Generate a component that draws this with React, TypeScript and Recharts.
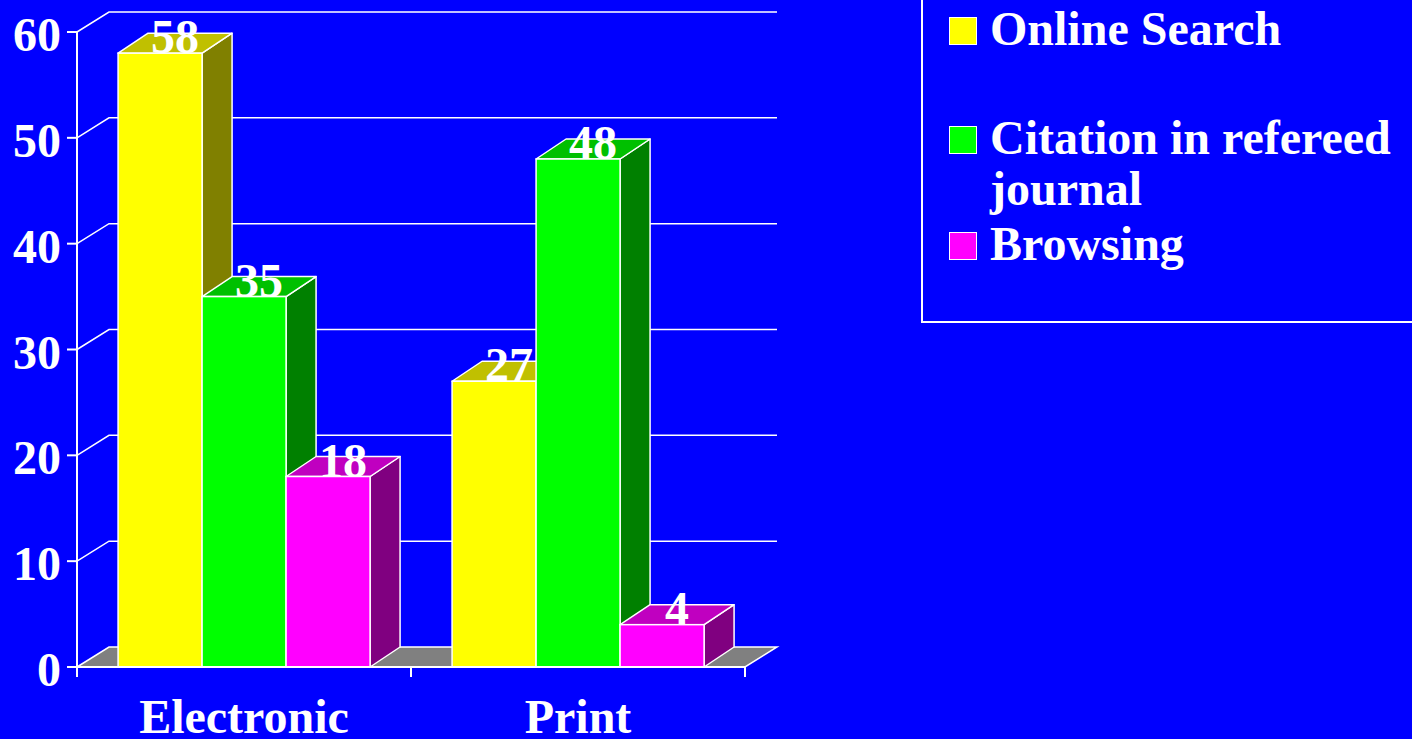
import React from "react"
import { BarChart, Bar, XAxis, YAxis, CartesianGrid, Legend } from "recharts"

const categories = ["Electronic", "Print"]
const onlineSearch = [58, 27]
const citation = [35, 48]
const browsing = [18, 4]
const seriesNames = ["Online Search", "Citation in refereed journal", "Browsing"]
const yTicks = [0, 10, 20, 30, 40, 50, 60]

const data = categories.map((category, i) => ({
  category,
  online: onlineSearch[i],
  citation: citation[i],
  browsing: browsing[i],
}))

const W = 1412
const H = 739
const MARGIN = { top: 32, right: 667, left: 0, bottom: 0 }
const Y_AXIS_W = 77
const X_AXIS_H = 72
const PLOT_W = W - MARGIN.left - MARGIN.right - Y_AXIS_W

const FONT = "'Liberation Serif', 'Times New Roman', serif"
const WALL_DX = 32
const WALL_DY = -20
const BAR_DX = 30
const BAR_DY = -20

const textStyle = {
  fontFamily: FONT,
  fontWeight: 700,
  fontSize: 48,
  fill: "#ffffff",
}

function Box3D(props: any) {
  const { x, y, width, height, fill, top, side, label } = props
  if (!(width > 0) || height == null) return null
  const r = x + width
  const b = y + height
  return (
    <g>
      <path
        d={`M${r},${b} L${r + BAR_DX},${b + BAR_DY} L${r + BAR_DX},${y + BAR_DY} L${r},${y} Z`}
        fill={side}
        stroke="#fff"
        strokeWidth={1.5}
        strokeLinejoin="round"
      />
      <path
        d={`M${x},${y} L${x + BAR_DX},${y + BAR_DY} L${r + BAR_DX},${y + BAR_DY} L${r},${y} Z`}
        fill={top}
        stroke="#fff"
        strokeWidth={1.5}
        strokeLinejoin="round"
      />
      <rect x={x} y={y} width={width} height={height} fill={fill} stroke="#fff" strokeWidth={1.5} />
      <text x={x + width / 2 + BAR_DX / 2} y={y} textAnchor="middle" style={textStyle}>
        {label}
      </text>
    </g>
  )
}

// back wall lines + floor, drawn from the grid's own coordinates
function WallLine(p: any) {
  const { x1, y1, x2 } = p
  const pts: number[] = p.horizontalPoints || []
  const floorY = pts.length ? Math.max(...pts) : p.y + p.height
  const isFloor = Math.abs(y1 - floorY) < 0.5
  if (isFloor) {
    return (
      <polygon
        points={`${x1},${y1} ${x1 + WALL_DX},${y1 + WALL_DY} ${x2 + WALL_DX},${y1 + WALL_DY} ${x2},${y1}`}
        fill="#808080"
        stroke="#fff"
        strokeWidth={1.5}
      />
    )
  }
  return (
    <polyline
      points={`${x1},${y1} ${x1 + WALL_DX},${y1 + WALL_DY} ${x2 + WALL_DX},${y1 + WALL_DY}`}
      fill="none"
      stroke="#fff"
      strokeWidth={1.5}
    />
  )
}

function YTick(props: any) {
  const { x, y, payload } = props
  return (
    <g>
      <line x1={x - 10} y1={y} x2={x} y2={y} stroke="#fff" strokeWidth={2} />
      <text x={x - 16} y={y + 19} textAnchor="end" style={textStyle}>
        {payload.value}
      </text>
    </g>
  )
}

function XTick(props: any) {
  const { x, y, payload } = props
  const half = PLOT_W / categories.length / 2
  return (
    <g>
      <line x1={x - half} y1={y} x2={x - half} y2={y + 10} stroke="#fff" strokeWidth={2} />
      <line x1={x + half} y1={y} x2={x + half} y2={y + 10} stroke="#fff" strokeWidth={2} />
      <text x={x} y={y + 66} textAnchor="middle" style={textStyle}>
        {payload.value}
      </text>
    </g>
  )
}

function LegendBox(props: any) {
  const items = [...(props.payload || [])].sort(
    (a: any, b: any) => seriesNames.indexOf(a.value) - seriesNames.indexOf(b.value)
  )
  const tops = [6, 115, 221]
  return (
    <div
      style={{
        position: "relative",
        width: "100%",
        height: "100%",
        boxSizing: "border-box",
        border: "2px solid #fff",
        fontFamily: FONT,
        fontWeight: 700,
        fontSize: 48,
        lineHeight: "51px",
        color: "#fff",
      }}
    >
      {items.map((item: any, i: number) => (
        <div key={item.value} style={{ position: "absolute", left: 0, top: tops[i] }}>
          <div
            style={{
              position: "absolute",
              left: 26,
              top: 14,
              width: 28,
              height: 28,
              boxSizing: "border-box",
              background: item.color,
              border: "1.5px solid #fff",
            }}
          />
          <div style={{ position: "absolute", left: 67, top: 0, width: 415 }}>{item.value}</div>
        </div>
      ))}
    </div>
  )
}

export default function App() {
  return (
    <div
      style={{
        position: "fixed",
        left: 0,
        top: 0,
        width: W,
        height: H,
        background: "#0000ff",
        overflow: "hidden",
      }}
    >
      <BarChart width={W} height={H} data={data} margin={MARGIN} barGap={0} barCategoryGap="12.3%">
        <CartesianGrid vertical={false} horizontal={(p: any) => <WallLine {...p} />} />
        <XAxis
          dataKey="category"
          height={X_AXIS_H}
          interval={0}
          tickSize={0}
          tickMargin={0}
          tickLine={false}
          axisLine={{ stroke: "#fff", strokeWidth: 2 }}
          tick={<XTick />}
        />
        <YAxis
          type="number"
          domain={[0, 60]}
          ticks={yTicks}
          interval={0}
          width={Y_AXIS_W}
          tickSize={0}
          tickMargin={0}
          tickLine={false}
          axisLine={{ stroke: "#fff", strokeWidth: 2 }}
          tick={<YTick />}
        />
        <Legend
          layout="vertical"
          align="center"
          verticalAlign="middle"
          content={<LegendBox />}
          wrapperStyle={{ left: 921, top: -5, width: 520, height: 328 }}
        />
        <Bar
          dataKey="online"
          name={seriesNames[0]}
          fill="#ffff00"
          isAnimationActive={false}
          shape={(p: any) => <Box3D {...p} top="#c0c000" side="#808000" label={p.payload.online} />}
        />
        <Bar
          dataKey="citation"
          name={seriesNames[1]}
          fill="#00ff00"
          isAnimationActive={false}
          shape={(p: any) => <Box3D {...p} top="#00c000" side="#008000" label={p.payload.citation} />}
        />
        <Bar
          dataKey="browsing"
          name={seriesNames[2]}
          fill="#ff00ff"
          isAnimationActive={false}
          shape={(p: any) => <Box3D {...p} top="#c000c0" side="#800080" label={p.payload.browsing} />}
        />
      </BarChart>
    </div>
  )
}
